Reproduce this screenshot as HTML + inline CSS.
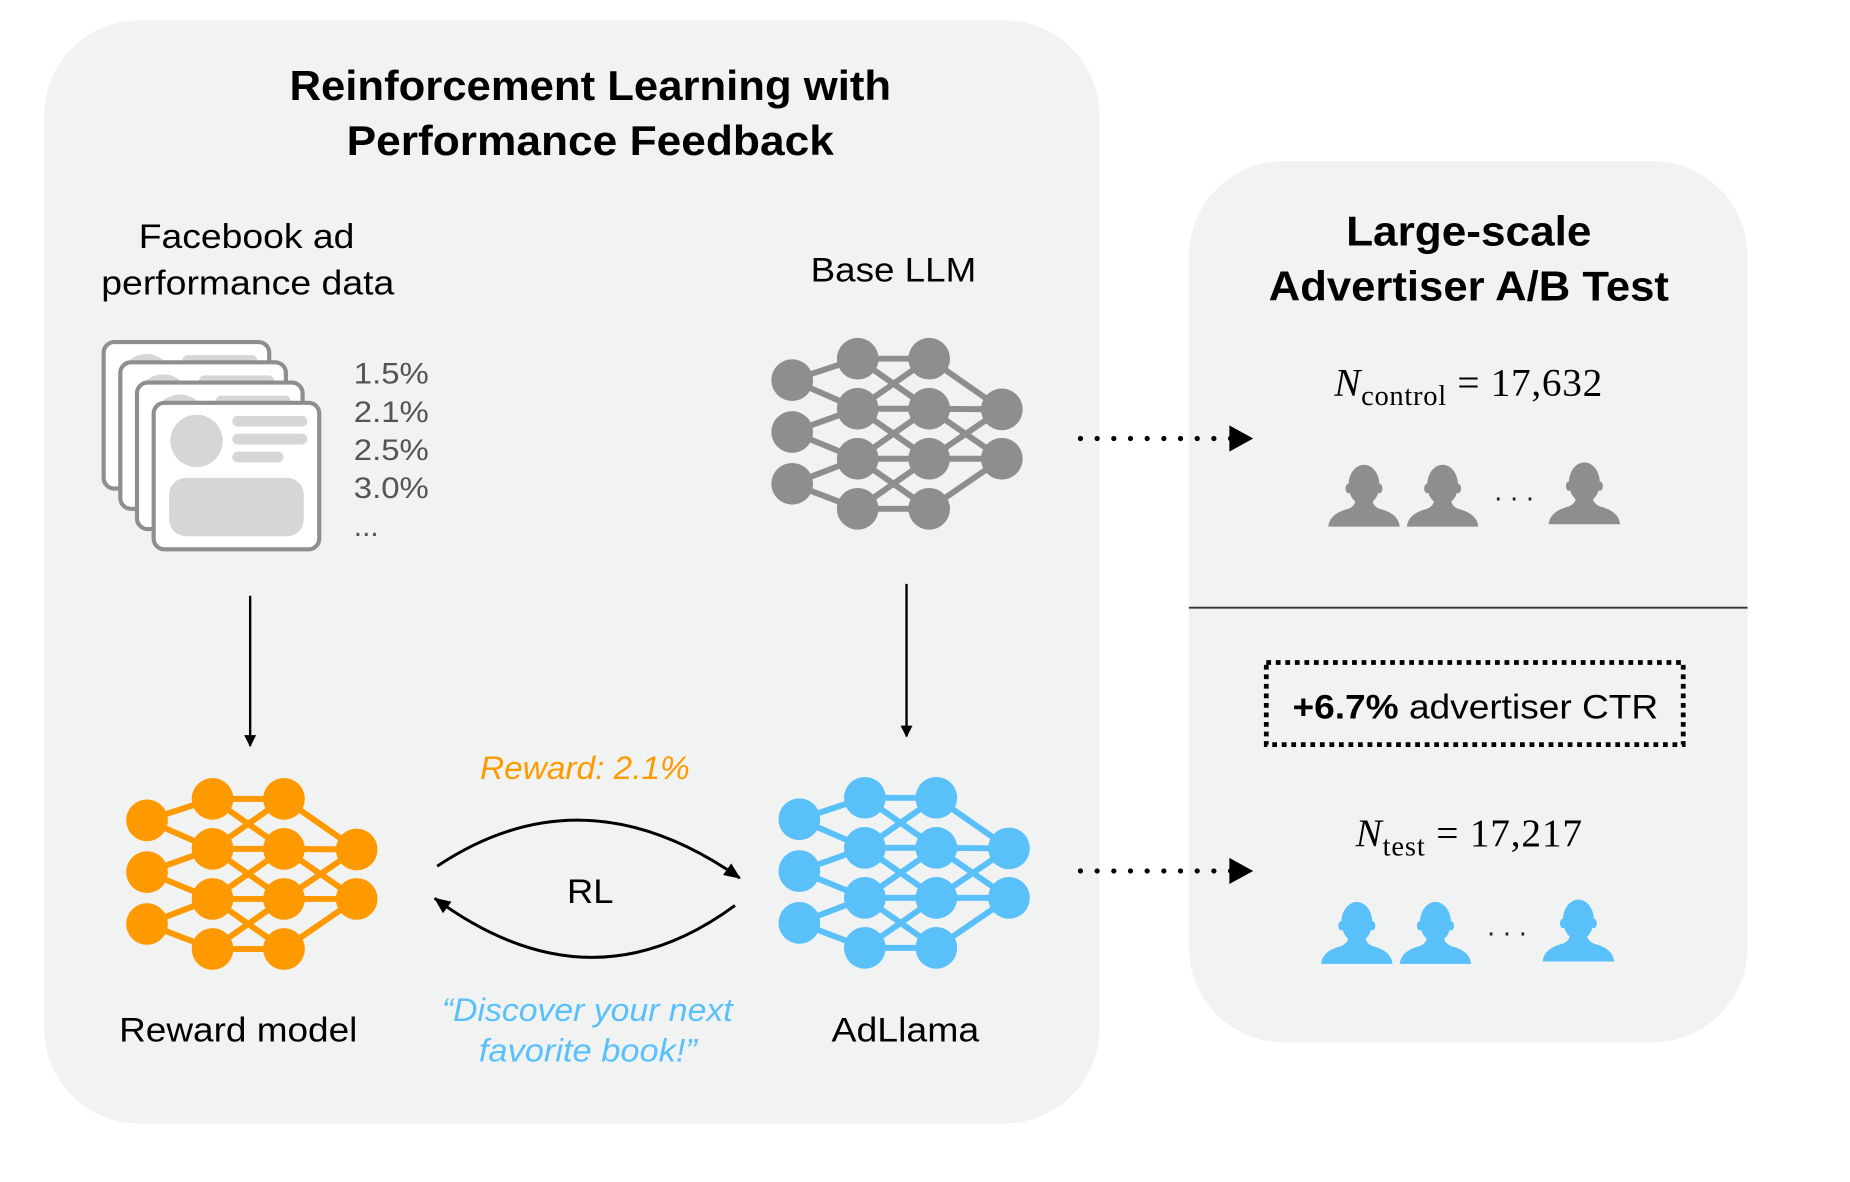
<!DOCTYPE html>
<html><head><meta charset="utf-8"><style>
html,body{margin:0;padding:0;background:#fff;}
svg{display:block;}
text{font-family:"Liberation Sans",sans-serif;}
</style></head><body>
<svg width="1850" height="1182" viewBox="0 0 1553 992" xmlns="http://www.w3.org/2000/svg">
<defs>
<g id="net">
 <g stroke="currentColor" stroke-width="5" fill="none">
  <line x1="665" y1="319" x2="720" y2="301"/><line x1="665" y1="319" x2="720" y2="343"/>
  <line x1="665" y1="362.5" x2="720" y2="343"/><line x1="665" y1="362.5" x2="720" y2="385"/>
  <line x1="665" y1="406" x2="720" y2="385"/><line x1="665" y1="406" x2="720" y2="427"/>
  <line x1="720" y1="301" x2="780" y2="301"/><line x1="720" y1="301" x2="780" y2="343"/>
  <line x1="720" y1="343" x2="780" y2="301"/><line x1="720" y1="343" x2="780" y2="343"/><line x1="720" y1="343" x2="780" y2="385"/>
  <line x1="720" y1="385" x2="780" y2="343"/><line x1="720" y1="385" x2="780" y2="385"/><line x1="720" y1="385" x2="780" y2="427"/>
  <line x1="720" y1="427" x2="780" y2="385"/><line x1="720" y1="427" x2="780" y2="427"/>
  <line x1="780" y1="301" x2="841" y2="343.5"/>
  <line x1="780" y1="343" x2="841" y2="343.5"/><line x1="780" y1="343" x2="841" y2="385"/>
  <line x1="780" y1="385" x2="841" y2="343.5"/><line x1="780" y1="385" x2="841" y2="385"/>
  <line x1="780" y1="427" x2="841" y2="385"/>
 </g>
 <g fill="currentColor">
  <circle cx="665" cy="319" r="17.5"/><circle cx="665" cy="362.5" r="17.5"/><circle cx="665" cy="406" r="17.5"/>
  <circle cx="720" cy="301" r="17.5"/><circle cx="720" cy="343" r="17.5"/><circle cx="720" cy="385" r="17.5"/><circle cx="720" cy="427" r="17.5"/>
  <circle cx="780" cy="301" r="17.5"/><circle cx="780" cy="343" r="17.5"/><circle cx="780" cy="385" r="17.5"/><circle cx="780" cy="427" r="17.5"/>
  <circle cx="841" cy="343.5" r="17.5"/><circle cx="841" cy="385" r="17.5"/>
 </g>
</g>
<g id="card">
 <rect x="0" y="0" width="139" height="123" rx="9" fill="#fff" stroke="#8e8e8e" stroke-width="3.5"/>
 <circle cx="36" cy="32" r="22" fill="#d6d6d6"/>
 <rect x="66" y="11" width="63" height="9" rx="4.5" fill="#d6d6d6"/>
 <rect x="66" y="26" width="63" height="9" rx="4.5" fill="#d6d6d6"/>
 <rect x="66" y="41" width="43" height="9" rx="4.5" fill="#d6d6d6"/>
 <rect x="13" y="63" width="113" height="49" rx="14" fill="#d6d6d6"/>
</g>
<g id="person">
 <ellipse cx="0" cy="17" rx="13" ry="17"/>
 <ellipse cx="-13" cy="20" rx="2.5" ry="4"/><ellipse cx="13" cy="20" rx="2.5" ry="4"/>
 <path d="M-30,52 Q-29,41 -13,37 Q-8,35 -7,30 L7,30 Q8,35 13,37 Q29,41 30,52 Z"/>
</g>
<marker id="ah" markerWidth="10" markerHeight="10" refX="9" refY="5" orient="auto" markerUnits="userSpaceOnUse">
 <path d="M0,0 L10,5 L0,10 Z" fill="#000"/>
</marker>
<marker id="ah2" markerWidth="14" markerHeight="14" refX="13" refY="7" orient="auto" markerUnits="userSpaceOnUse">
 <path d="M0,1 L14,7 L0,13 Z" fill="#000"/>
</marker>
</defs>

<rect x="37" y="17" width="886" height="926" rx="80" fill="#f1f2f2"/>
<rect x="998" y="135" width="469" height="740" rx="80" fill="#f1f2f2"/>
<line x1="998" y1="510" x2="1467" y2="510" stroke="#333" stroke-width="1.5"/>

<text x="495.5" y="84" text-anchor="middle" font-size="35" font-weight="bold" textLength="505" lengthAdjust="spacingAndGlyphs">Reinforcement Learning with</text>
<text x="495.5" y="130" text-anchor="middle" font-size="35" font-weight="bold" textLength="409" lengthAdjust="spacingAndGlyphs">Performance Feedback</text>
<text x="207" y="208" text-anchor="middle" font-size="29" textLength="181" lengthAdjust="spacingAndGlyphs">Facebook ad</text>
<text x="208" y="247" text-anchor="middle" font-size="29" textLength="246" lengthAdjust="spacingAndGlyphs">performance data</text>
<text x="750" y="236" text-anchor="middle" font-size="29" textLength="139" lengthAdjust="spacingAndGlyphs">Base LLM</text>

<use href="#card" x="87" y="287"/>
<use href="#card" x="101" y="304"/>
<use href="#card" x="115" y="321"/>
<use href="#card" x="129" y="338"/>
<g font-size="25" fill="#555">
 <text x="297" y="322" textLength="63" lengthAdjust="spacingAndGlyphs">1.5%</text><text x="297" y="354" textLength="63" lengthAdjust="spacingAndGlyphs">2.1%</text>
 <text x="297" y="386" textLength="63" lengthAdjust="spacingAndGlyphs">2.5%</text><text x="297" y="418" textLength="63" lengthAdjust="spacingAndGlyphs">3.0%</text>
 <text x="297" y="450">...</text>
</g>

<use href="#net" style="color:#8e8e8e"/>
<use href="#net" transform="translate(-541.6,369.5)" style="color:#ff9900"/>
<use href="#net" transform="translate(6,368.6)" style="color:#5ac0fa"/>

<line x1="210" y1="500" x2="210" y2="626" stroke="#000" stroke-width="2" marker-end="url(#ah)"/>
<line x1="761" y1="490" x2="761" y2="618" stroke="#000" stroke-width="2" marker-end="url(#ah)"/>

<g fill="#000">
 <circle cx="907" cy="368" r="2.2"/><circle cx="921" cy="368" r="2.2"/><circle cx="935" cy="368" r="2.2"/><circle cx="949" cy="368" r="2.2"/><circle cx="963" cy="368" r="2.2"/><circle cx="977" cy="368" r="2.2"/><circle cx="991" cy="368" r="2.2"/><circle cx="1005" cy="368" r="2.2"/><circle cx="1019" cy="368" r="2.2"/><circle cx="1033" cy="368" r="2.2"/>
 <path d="M1032,357 L1052,368 L1032,379 Z"/>
 <circle cx="907" cy="731" r="2.2"/><circle cx="921" cy="731" r="2.2"/><circle cx="935" cy="731" r="2.2"/><circle cx="949" cy="731" r="2.2"/><circle cx="963" cy="731" r="2.2"/><circle cx="977" cy="731" r="2.2"/><circle cx="991" cy="731" r="2.2"/><circle cx="1005" cy="731" r="2.2"/><circle cx="1019" cy="731" r="2.2"/><circle cx="1033" cy="731" r="2.2"/>
 <path d="M1032,720 L1052,731 L1032,742 Z"/>
</g>

<path d="M367,727 Q490,645 621,737" fill="none" stroke="#000" stroke-width="2.5" marker-end="url(#ah2)"/>
<path d="M617,760 Q495,850 365,754" fill="none" stroke="#000" stroke-width="2.5" marker-end="url(#ah2)"/>
<text x="491" y="654" text-anchor="middle" font-size="27" font-style="italic" fill="#ff9900" textLength="176" lengthAdjust="spacingAndGlyphs">Reward: 2.1%</text>
<text x="495.5" y="758" text-anchor="middle" font-size="29" textLength="39" lengthAdjust="spacingAndGlyphs">RL</text>
<text x="493" y="857" text-anchor="middle" font-size="27" font-style="italic" fill="#5ac0fa" textLength="244" lengthAdjust="spacingAndGlyphs">“Discover your next</text>
<text x="493.5" y="891" text-anchor="middle" font-size="27" font-style="italic" fill="#5ac0fa" textLength="183" lengthAdjust="spacingAndGlyphs">favorite book!”</text>
<text x="200" y="874" text-anchor="middle" font-size="29" textLength="200" lengthAdjust="spacingAndGlyphs">Reward model</text>
<text x="760" y="874" text-anchor="middle" font-size="29" textLength="124" lengthAdjust="spacingAndGlyphs">AdLlama</text>

<text x="1233" y="206" text-anchor="middle" font-size="35" font-weight="bold" textLength="206" lengthAdjust="spacingAndGlyphs">Large-scale</text>
<text x="1233" y="252" text-anchor="middle" font-size="35" font-weight="bold" textLength="336" lengthAdjust="spacingAndGlyphs">Advertiser A/B Test</text>
<text x="1232.5" y="332" text-anchor="middle" font-size="33" style="font-family:'Liberation Serif',serif" textLength="225" lengthAdjust="spacing"><tspan font-style="italic">N</tspan><tspan font-size="24" dy="8">control</tspan><tspan dy="-8"> = 17,632</tspan></text>
<g fill="#8e8e8e">
 <use href="#person" x="1145" y="390"/><use href="#person" x="1211" y="390"/><use href="#person" x="1330" y="388"/>
</g>
<text x="1271" y="420" text-anchor="middle" font-size="24" fill="#222">. . .</text>

<rect x="1063" y="556" width="350" height="69" fill="none" stroke="#000" stroke-width="4" stroke-dasharray="4,4"/>
<text x="1238.5" y="603" text-anchor="middle" font-size="29" textLength="307" lengthAdjust="spacingAndGlyphs"><tspan font-weight="bold">+6.7%</tspan> advertiser CTR</text>

<text x="1233" y="710" text-anchor="middle" font-size="33" style="font-family:'Liberation Serif',serif" textLength="190" lengthAdjust="spacing"><tspan font-style="italic">N</tspan><tspan font-size="24" dy="8">test</tspan><tspan dy="-8"> = 17,217</tspan></text>
<g fill="#5ac0fa">
 <use href="#person" x="1139" y="757"/><use href="#person" x="1205" y="757"/><use href="#person" x="1325" y="755"/>
</g>
<text x="1265" y="785" text-anchor="middle" font-size="24" fill="#222">. . .</text>
</svg>
</body></html>
